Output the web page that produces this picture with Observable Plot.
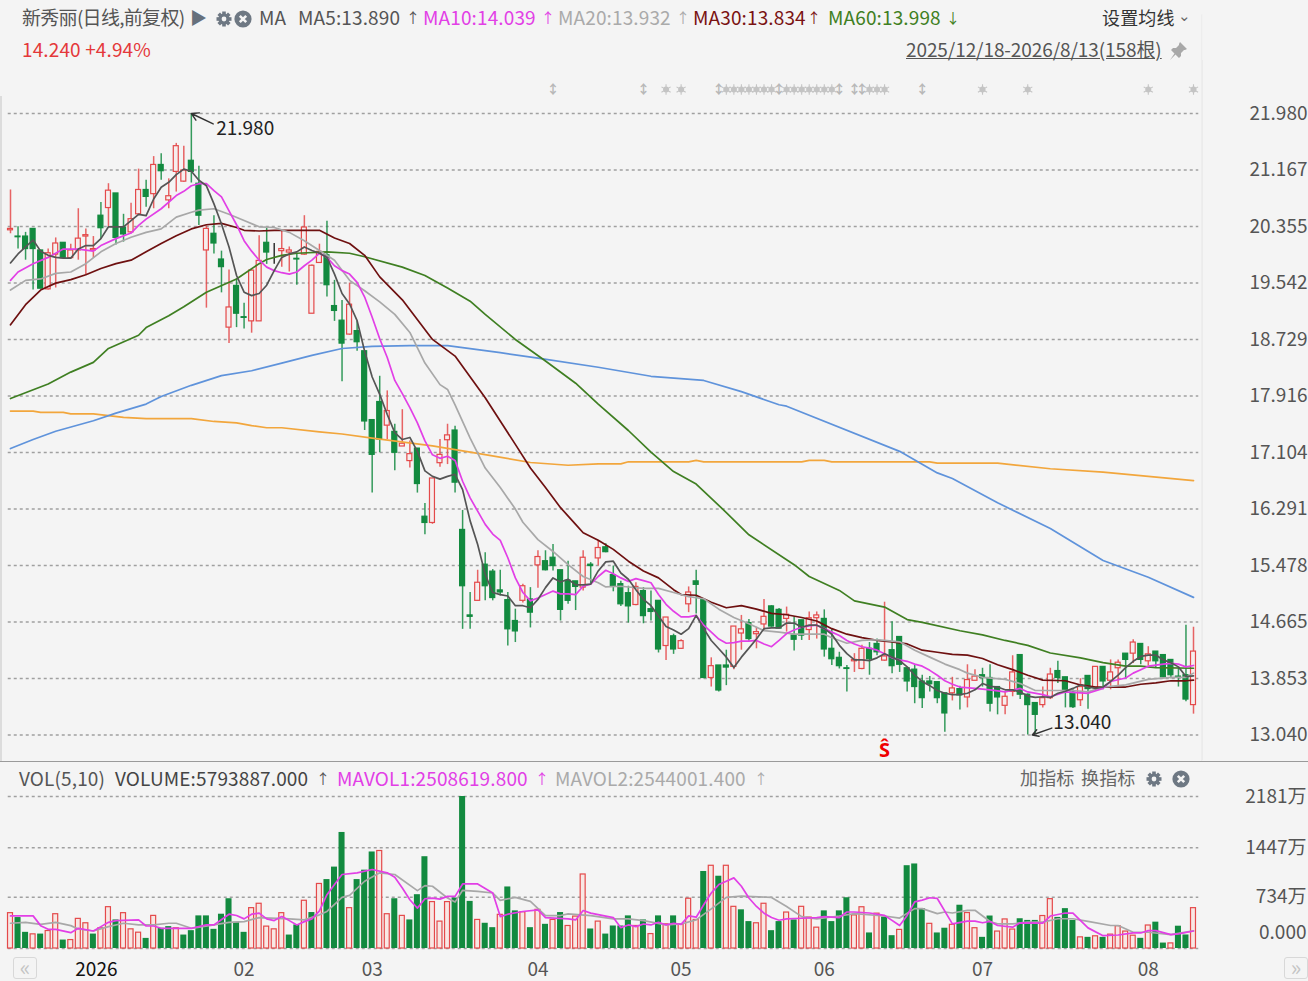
<!DOCTYPE html>
<html><head><meta charset="utf-8">
<script src="https://cdn.jsdelivr.net/npm/d3@7"></script>
<script src="https://cdn.jsdelivr.net/npm/@observablehq/plot@0.6"></script>
<style>
html,body{margin:0;padding:0;background:#f4f4f4;width:1308px;height:981px;overflow:hidden;font-family:"Noto Sans CJK SC","Noto Sans",sans-serif}
#stage{position:relative;width:1308px;height:981px;background:#f4f4f4}
#main,#vol{position:absolute;left:0}
#main{top:0}#vol{top:762px}
.t{position:absolute;white-space:nowrap;font-size:19px;line-height:24px;letter-spacing:.13px}
.ic{position:absolute}
.btn{position:absolute;width:22px;height:20px;border:1px solid #d8d8d8;border-radius:3px;color:#c4c4c4;font-size:22px;line-height:17px;text-align:center}
</style></head><body><div id="stage">
<div id="main"></div><div id="vol"></div>
</div>
<script>
const RED="#e4494a",GREEN="#128a3f";
// candles: i = 0..157
const opens=[20.30,20.21,20.21,20.32,20.01,19.45,19.95,20.12,19.90,20.01,20.21,20.01,20.51,20.62,20.83,20.34,20.27,20.53,20.88,20.82,21.24,20.73,21.14,21.00,21.30,20.97,20.01,20.25,19.88,18.90,19.50,19.05,18.99,18.99,20.12,19.98,20.00,19.98,19.89,19.95,19.10,19.83,19.94,19.21,19.00,18.80,18.85,18.56,
17.57,17.83,17.49,17.40,17.19,16.98,17.16,16.18,16.09,16.95,17.28,17.42,15.99,14.76,14.97,15.49,15.39,15.12,14.98,14.68,14.97,14.99,15.48,15.54,15.59,15.41,15.26,15.25,15.16,15.49,15.58,15.74,15.34,15.21,15.08,14.91,15.11,14.85,14.97,14.32,14.46,14.28,14.92,15.25,
14.98,13.86,14.04,14.04,14.02,14.50,14.65,14.49,14.63,14.89,14.84,14.71,14.47,14.69,14.55,14.72,14.71,14.28,14.15,14.00,14.10,13.99,14.28,14.35,14.11,14.26,14.45,14.00,13.98,13.81,13.81,13.80,13.64,13.64,13.70,
13.58,13.82,13.90,13.86,13.73,13.46,13.66,14.19,13.62,13.50,13.47,13.57,13.96,13.87,13.65,13.54,13.89,13.72,14.02,13.82,14.00,14.21,14.21,14.35,14.10,14.24,14.19,14.12,13.88,13.90,13.47];
const closes=[20.32,20.20,20.03,20.03,19.46,19.97,20.11,19.90,20.01,20.18,20.23,20.03,20.33,20.87,20.19,20.24,20.46,20.88,20.78,21.24,21.15,20.79,21.51,21.16,21.14,20.51,20.32,20.11,19.77,19.19,19.10,19.04,19.72,19.86,19.98,19.98,20.03,20.01,19.88,20.34,19.79,19.99,19.51,19.14,18.67,19.23,18.69,17.55,
17.07,17.29,17.70,17.10,17.23,17.08,16.65,16.09,16.73,17.07,17.35,16.67,15.18,14.74,15.23,15.18,15.01,15.09,14.56,14.53,15.18,14.80,15.60,15.41,15.47,14.84,14.97,15.17,15.59,15.47,15.73,15.67,15.18,14.92,14.89,15.17,14.75,14.81,14.27,14.73,14.27,14.39,15.09,15.20,
13.86,14.03,13.68,14.01,14.60,14.56,14.42,14.52,14.74,14.60,14.57,14.77,14.41,14.47,14.72,14.76,14.27,14.13,14.03,13.99,14.12,14.28,14.13,14.23,14.17,14.03,14.05,13.81,13.73,13.57,13.77,13.57,13.35,13.71,13.61,
13.83,13.88,13.86,13.49,13.58,13.59,13.94,13.62,13.47,13.33,13.57,13.91,13.86,13.69,13.44,13.73,13.70,14.02,13.81,13.94,14.08,14.12,14.37,14.12,14.20,14.10,13.87,13.90,13.87,13.55,14.24];
const highs=[20.88,20.35,20.27,20.32,20.01,20.03,20.19,20.12,20.10,20.61,20.32,20.21,20.70,20.97,20.83,20.53,20.69,21.18,21.02,21.36,21.40,21.04,21.55,21.51,21.98,21.22,20.36,20.51,20.00,19.73,19.60,19.25,19.73,20.22,20.34,20.11,20.30,20.06,19.96,20.51,19.80,20.10,20.43,19.58,19.29,19.54,18.99,18.56,
17.57,18.20,17.99,17.51,17.72,17.27,17.16,16.37,16.73,17.29,17.51,17.48,16.27,15.09,15.41,15.66,15.42,15.41,15.09,14.85,15.21,15.16,15.69,15.69,15.78,15.41,15.54,15.25,15.69,15.52,15.83,15.79,15.47,15.25,15.18,15.23,15.16,15.11,14.97,14.73,14.49,14.41,15.17,15.41,
14.98,14.15,14.04,14.26,14.60,14.76,14.70,14.59,14.99,14.90,14.86,14.88,14.74,14.69,14.81,14.81,14.84,14.57,14.23,14.04,14.21,14.33,14.37,14.42,14.95,14.67,14.45,14.00,14.04,13.90,13.88,13.80,13.64,13.87,13.74,
14.05,13.98,14.00,14.05,13.73,13.65,14.18,14.19,13.63,13.50,13.73,14.00,14.10,13.87,13.69,13.85,13.89,14.02,14.02,14.12,14.12,14.21,14.41,14.35,14.31,14.24,14.19,14.12,14.00,14.62,14.59];
const lows=[20.25,20.03,19.87,19.44,19.46,19.44,19.47,19.90,19.90,19.87,19.65,19.90,20.18,20.35,20.09,20.13,20.25,20.51,20.63,20.61,21.02,20.61,20.85,20.99,20.98,20.37,19.18,19.96,19.40,18.67,18.90,18.88,18.82,18.99,19.81,19.81,19.77,19.70,19.51,19.94,19.10,19.83,19.34,18.99,18.12,18.79,18.56,17.42,
16.52,17.10,17.29,16.84,17.19,16.88,16.52,15.92,16.07,16.89,16.93,16.52,14.56,14.56,14.97,14.97,14.97,15.04,14.32,14.37,14.94,14.58,15.15,15.40,15.40,14.68,14.92,14.83,15.11,15.20,15.47,15.66,15.10,14.89,14.65,14.90,14.64,14.68,14.22,14.11,14.20,14.27,14.80,14.78,
13.85,13.73,13.66,13.75,13.98,14.26,14.39,14.28,14.53,14.59,14.57,14.52,14.25,14.40,14.40,14.42,14.16,14.04,13.99,13.66,13.94,13.98,13.90,14.18,14.10,13.92,13.94,13.66,13.49,13.42,13.66,13.49,13.08,13.53,13.40,
13.43,13.82,13.73,13.37,13.33,13.33,13.59,13.55,13.04,13.06,13.43,13.55,13.78,13.43,13.42,13.45,13.41,13.72,13.69,13.69,13.73,13.85,14.07,14.05,14.03,14.00,13.86,13.85,13.73,13.52,13.34];
// volume in units of 万
const volumes=[507,444,232,203,207,251,492,121,121,425,362,207,290,593,410,507,275,227,145,468,290,314,290,193,256,468,468,275,492,714,376,232,579,642,314,275,507,193,338,685,516,926,989,1168,1665,579,989,1124,1385,1399,492,714,468,410,772,
1317,666,386,666,724,2181,676,410,362,299,483,883,540,521,299,555,347,410,516,323,458,1062,280,386,207,323,323,468,323,410,207,468,347,468,347,714,410,1105,1187,1037,1187,598,555,386,362,642,256,386,516,410,598,444,299,540,386,540,
728,475,592,223,500,451,184,267,1188,1213,572,354,223,291,340,621,509,291,160,466,243,417,272,427,403,403,466,708,446,572,403,160,160,175,160,199,320,243,184,146,330,378,78,73,320,194,579];
const volDir=["rggrgrrgrr","rgrrgrrrgr","ggrggggggg","ggrrrrrggr","grgggrgggr","rgrgggrrrg","ggrggrggrg","rgrgrrrgrg","gggrgrgrgr","rrgrgrrggr","rggrgrrrgg","ggrrgrggrg","ggrggrgrrg","grrrgggrrg","ggrgrgrrrr","grggrggr"].join("");
// moving averages: [candle index, value]
const ma5Values=[19.83,19.96,20.06,20.16,20.00,19.94,19.91,19.90,19.90,20.03,20.08,20.08,20.18,20.35,20.35,20.35,20.44,20.53,20.51,20.75,20.92,20.99,21.10,21.18,21.15,21.02,20.94,20.68,20.39,20.06,19.65,19.41,19.36,19.39,19.51,19.72,19.91,19.96,19.99,20.06,20.01,19.97,19.91,19.67,19.39,19.24,19.00,18.56,18.19,17.94,17.65,17.39,17.29,17.32,17.12,16.84,16.76,16.72,16.76,16.79,16.57,16.12,15.78,15.35,15.09,15.06,15.04,14.90,14.90,14.87,14.99,15.16,15.30,15.24,15.28,15.20,15.20,15.21,15.40,15.53,15.54,15.37,15.28,15.13,14.99,14.90,14.75,14.60,14.55,14.49,14.57,14.76,14.57,14.40,14.28,14.16,14.01,14.16,14.29,14.42,14.57,14.58,14.58,14.65,14.65,14.59,14.62,14.62,14.57,14.49,14.33,14.21,14.12,14.12,14.11,14.15,14.21,14.16,14.11,14.02,13.90,13.81,13.75,13.68,13.64,13.62,13.62,13.64,13.69,13.78,13.74,13.73,13.69,13.69,13.66,13.60,13.58,13.59,13.58,13.64,13.67,13.71,13.76,13.73,13.71,13.73,13.81,13.90,14.01,14.10,14.17,14.19,14.19,14.12,14.08,14.02,13.88,13.89];
const ma10=[[0,19.58],[1,19.70],[3,19.82],[5,19.91],[7,20.03],[9,20.03],[11,20.00],[12,20.08],[14,20.18],[16,20.26],[17,20.37],[18,20.46],[20,20.61],[22,20.80],[23,20.86],[24,20.94],[25,20.97],[26,20.97],[27,20.87],[28,20.78],[29,20.58],[30,20.38],[31,20.15],[32,20.00],[33,19.87],[34,19.77],[35,19.72],[36,19.69],[37,19.67],[38,19.70],[39,19.79],[40,19.87],[41,19.97],[42,19.91],[43,19.79],[44,19.72],[45,19.67],[46,19.55],[47,19.34],[48,19.05],[49,18.74],[50,18.47],[51,18.14],[52,17.95],[53,17.75],[54,17.53],[55,17.27],[56,17.07],[57,17.02],[58,17.05],[59,16.99],[60,16.69],[61,16.45],[62,16.26],[63,16.07],[64,15.93],[65,15.84],[66,15.59],[67,15.30],[68,15.09],[69,14.97],[70,15.01],[71,15.06],[72,15.11],[73,15.07],[74,15.07],[75,15.06],[76,15.18],[77,15.21],[78,15.32],[79,15.41],[80,15.36],[81,15.30],[82,15.25],[83,15.29],[84,15.26],[85,15.23],[86,15.06],[87,14.92],[88,14.82],[89,14.74],[90,14.74],[91,14.76],[92,14.62],[93,14.52],[94,14.42],[95,14.36],[96,14.37],[97,14.39],[98,14.39],[99,14.40],[100,14.35],[101,14.31],[102,14.40],[103,14.50],[104,14.55],[105,14.59],[106,14.61],[107,14.62],[108,14.57],[109,14.52],[110,14.47],[111,14.40],[112,14.35],[113,14.31],[114,14.29],[115,14.26],[116,14.21],[117,14.15],[118,14.12],[119,14.10],[120,14.06],[121,14.03],[122,13.97],[123,13.90],[124,13.82],[125,13.77],[126,13.73],[128,13.71],[130,13.69],[132,13.66],[134,13.71],[135,13.66],[137,13.62],[138,13.59],[140,13.66],[143,13.64],[145,13.71],[146,13.81],[148,13.86],[149,13.93],[150,13.98],[151,14.03],[153,14.06],[154,14.07],[155,14.06],[156,14.02],[157,14.04]];
const ma20=[[0,19.44],[2,19.58],[4,19.60],[6,19.68],[8,19.70],[10,19.82],[12,19.99],[14,20.11],[16,20.20],[18,20.27],[20,20.32],[22,20.49],[24,20.56],[25,20.59],[27,20.61],[29,20.53],[31,20.44],[33,20.35],[35,20.34],[37,20.27],[39,20.15],[41,20.01],[43,19.87],[45,19.58],[47,19.43],[49,19.27],[51,19.09],[53,18.83],[55,18.39],[57,18.08],[58,18.01],[59,17.79],[61,17.31],[63,16.88],[65,16.60],[67,16.29],[68,16.10],[70,15.85],[72,15.68],[74,15.49],[76,15.32],[78,15.23],[79,15.17],[81,15.18],[84,15.15],[86,15.15],[88,15.09],[90,15.03],[92,15.00],[94,14.85],[96,14.73],[98,14.64],[100,14.54],[102,14.52],[104,14.49],[106,14.49],[108,14.49],[109,14.44],[111,14.36],[113,14.40],[115,14.41],[116,14.40],[118,14.38],[120,14.26],[122,14.16],[124,14.06],[126,13.98],[127,13.93],[129,13.87],[132,13.84],[134,13.78],[136,13.68],[138,13.68],[141,13.68],[143,13.66],[145,13.73],[148,13.76],[151,13.84],[154,13.87],[156,13.87],[157,13.93]];
const ma30=[[0,18.94],[2,19.23],[4,19.44],[6,19.54],[8,19.59],[10,19.66],[12,19.75],[14,19.82],[16,19.87],[18,19.99],[20,20.11],[22,20.22],[24,20.32],[26,20.38],[28,20.40],[30,20.34],[31,20.30],[33,20.29],[35,20.30],[37,20.30],[39,20.30],[41,20.30],[43,20.19],[45,20.11],[47,19.94],[49,19.63],[52,19.30],[56,18.73],[59,18.49],[63,17.89],[67,17.22],[69,16.88],[71,16.60],[73,16.31],[75,16.07],[76,15.95],[78,15.84],[80,15.71],[82,15.54],[84,15.40],[86,15.30],[88,15.13],[89,15.06],[91,15.05],[93,14.95],[95,14.87],[97,14.90],[99,14.85],[101,14.79],[103,14.77],[105,14.73],[107,14.68],[109,14.57],[111,14.49],[113,14.44],[115,14.40],[117,14.38],[119,14.35],[121,14.26],[123,14.23],[125,14.20],[127,14.19],[129,14.14],[131,14.05],[133,13.98],[135,13.90],[137,13.83],[140,13.82],[142,13.76],[144,13.73],[146,13.73],[148,13.73],[150,13.77],[152,13.79],[154,13.82],[156,13.82],[157,13.83]];
const ma60=[[0,17.88],[5,18.09],[8,18.26],[11,18.40],[13,18.60],[17,18.79],[18,18.90],[21,19.07],[23,19.20],[26,19.41],[30,19.60],[33,19.82],[34,19.88],[36,19.94],[38,19.97],[42,19.99],[45,19.97],[47,19.92],[52,19.77],[55,19.65],[58,19.47],[61,19.28],[63,19.09],[67,18.73],[71,18.42],[75,18.10],[78,17.80],[82,17.42],[85,17.11],[88,16.83],[91,16.65],[95,16.24],[98,15.92],[104,15.49],[106,15.32],[110,15.12],[112,14.97],[116,14.88],[119,14.70],[121,14.66],[126,14.54],[129,14.48],[132,14.40],[135,14.33],[138,14.22],[142,14.15],[145,14.08],[148,14.03],[150,14.03],[152,14.01],[157,14.00]];
const ma120=[[0,17.16],[3,17.29],[6,17.41],[11,17.56],[14,17.67],[18,17.80],[20,17.91],[24,18.07],[28,18.21],[32,18.28],[36,18.39],[40,18.50],[44,18.60],[48,18.63],[53,18.64],[58,18.64],[65,18.54],[70,18.46],[78,18.33],[85,18.20],[92,18.14],[97,17.98],[102,17.79],[103,17.77],[118,17.12],[123,16.81],[125,16.73],[131,16.38],[138,16.01],[145,15.55],[151,15.31],[157,15.02]];
const ma250=[[0,17.70],[3,17.70],[4,17.68],[7,17.68],[8,17.66],[11,17.66],[15,17.61],[18,17.59],[24,17.59],[27,17.55],[30,17.53],[32,17.49],[34,17.46],[36,17.46],[41,17.40],[44,17.37],[48,17.31],[56,17.20],[62,17.09],[69,16.96],[74,16.92],[78,16.94],[81,16.94],[82,16.97],[90,16.97],[91,16.99],[92,16.97],[105,16.97],[106,16.99],[108,16.99],[109,16.97],[122,16.97],[123,16.95],[131,16.95],[138,16.87],[145,16.82],[157,16.70]];
const mavol1=[[0,468],[3,468],[4,328],[5,275],[6,275],[8,227],[9,290],[11,251],[12,314],[13,376],[14,400],[17,410],[18,323],[19,323],[20,290],[22,290],[24,290],[26,338],[27,338],[29,492],[30,473],[31,425],[32,492],[33,507],[34,425],[35,400],[36,458],[37,400],[38,338],[39,386],[40,425],[41,540],[42,772],[43,917],[44,1062],[46,1086],[48,1134],[50,1086],[51,1023],[52,869],[53,700],[54,579],[55,714],[56,724],[57,709],[58,748],[59,748],[60,926],[62,926],[64,796],[65,458],[66,492],[68,531],[70,555],[71,444],[74,425],[75,410],[76,545],[77,507],[80,444],[81,299],[82,338],[83,314],[84,352],[85,338],[86,376],[87,338],[88,362],[89,347],[90,468],[91,449],[92,627],[93,796],[94,917],[95,965],[96,1013],[97,893],[98,724],[99,603],[100,507],[101,444],[102,405],[103,425],[105,434],[107,444],[108,458],[110,444],[111,524],[112,524],[114,509],[116,475],[118,330],[119,475],[120,669],[121,694],[122,728],[123,718],[125,354],[127,393],[128,393],[129,369],[130,388],[131,330],[133,306],[134,369],[137,364],[138,466],[140,509],[141,509],[143,296],[145,184],[147,194],[149,223],[150,223],[151,257],[152,257],[154,199],[155,209],[157,251]];
const mavol2=[[0,362],[2,376],[4,347],[6,376],[8,328],[9,280],[11,251],[13,314],[15,362],[17,338],[19,338],[21,362],[22,362],[24,290],[27,338],[29,376],[31,386],[33,444],[37,425],[39,410],[41,483],[42,531],[44,733],[45,762],[47,965],[49,1086],[51,1062],[54,830],[55,902],[56,893],[58,724],[59,666],[60,835],[62,820],[64,796],[65,690],[67,733],[69,676],[71,473],[73,473],[74,497],[77,473],[80,425],[82,425],[84,400],[87,338],[89,352],[91,410],[93,569],[95,733],[97,752],[101,733],[103,603],[105,458],[107,425],[110,466],[112,500],[116,466],[118,437],[120,572],[121,572],[123,500],[124,524],[125,509],[127,548],[128,548],[130,388],[131,354],[133,354],[135,378],[137,378],[139,427],[141,427],[143,388],[146,330],[147,330],[149,233],[151,233],[154,199],[157,254]];
const priceTicks=[21.98,21.167,20.355,19.542,18.729,17.916,17.104,16.291,15.478,14.665,13.853,13.04];
const volTicks=[2181,1447,734];
const monthIdx=[31,48,70,89,108,129,151];
const monthLabels=["02","03","04","05","06","07","08"];
const yearIdx=[11.4];
const eventUpDown=[72,84,94,102,110,112,113,121];
const eventStar=[87,89,95,96,97,98,99,100,101,103,104,105,106,107,108,109,114,115,116,129,135,151,157];
const eventY=22.325;
const sellSignal=[{i:116,y:12.82}];
const extremes=[{i:24,y:21.98,tx:27.3,ty:21.76,ax:26.9,ay:21.83,label:"21.980"},{i:135.6,y:13.04,tx:138.4,ty:13.22,ax:138.2,ay:13.14,label:"13.040"}];

const candles=opens.map((o,i)=>({i,o,c:closes[i],h:highs[i],l:lows[i]}));
const col=d=>d.c>d.o?RED:d.c<d.o?GREEN:"#111";
const pairs=a=>a.map(([i,v])=>({i,v}));
const line=(a,stroke,w=1.7)=>Plot.line(pairs(a),{x:"i",y:"v",stroke,strokeWidth:w,curve:"linear"});
const FONT='"Noto Sans CJK SC","Noto Sans",sans-serif';
const xScale={domain:[0,157],range:[10,1193],axis:null};
const grid=(vals)=>Plot.ruleY(vals,{x1:-0.3,x2:157.7,stroke:"#a0a0a0",strokeWidth:1.5,strokeDasharray:"3 3"});

const main=Plot.plot({width:1308,height:762,marginLeft:0,marginRight:59,marginTop:0,marginBottom:0,
 style:{background:"transparent",fontFamily:FONT},
 x:xScale,y:{domain:[13.04,21.98],range:[734.5,113],axis:null},
 marks:[
  grid(priceTicks),
  Plot.ruleX([158.1],{y1:12.2,y2:23.4,stroke:"#ebebeb",strokeWidth:1}),
  Plot.axisY(priceTicks,{anchor:"right",tickSize:0,tickPadding:0,tickFormat:d=>d.toFixed(3),fontSize:19,label:null,fill:"#555"}),
  Plot.ruleX(candles,{x:"i",y1:"l",y2:"h",stroke:col,strokeWidth:1.5,strokeOpacity:.85}),
  Plot.rect(candles,{x1:d=>d.i-.33,x2:d=>d.i+.33,y1:"o",y2:"c",fill:d=>d.c>d.o?"#f6eeee":col(d),stroke:col,strokeWidth:1.2}),
  line(ma250,"#f2a63c"),line(ma120,"#5f93db"),line(ma60,"#3f7f22"),line(ma30,"#6e1010"),line(ma20,"#a8a8a8"),line(ma10,"#e23fe6"),
  line(ma5Values.map((v,i)=>[i,v]),"#555555"),
  Plot.dot(eventStar,{x:d=>d,y:()=>eventY,r:3,fill:"#c4c4c4"}),
  Plot.dot(eventStar,{x:d=>d,y:()=>eventY,symbol:"asterisk",r:5,stroke:"#c4c4c4",strokeWidth:1.1}),
  Plot.text(eventUpDown,{x:d=>d,y:()=>eventY,text:()=>"↕",fontSize:13,fontWeight:"bold",fill:"#b8b8b8"}),
  Plot.text(sellSignal,{x:"i",y:"y",text:()=>"Ŝ",fontSize:20,fontWeight:"bold",fill:"#f00000"}),
  Plot.arrow(extremes,{x1:"ax",y1:"ay",x2:"i",y2:"y",stroke:"#333",strokeWidth:1.4,headLength:10,bend:0}),
  Plot.text(extremes,{x:"tx",y:"ty",text:"label",fontSize:19,fill:"#222",textAnchor:"start"})
 ]});
document.getElementById("main").append(main);

const bars=volumes.map((v,i)=>({i,v,d:volDir[i]}));
const vol=Plot.plot({width:1308,height:219,marginLeft:0,marginRight:2,marginTop:0,marginBottom:19,
 style:{background:"transparent",fontFamily:FONT},
 x:xScale,y:{domain:[0,2181],range:[186,34],axis:null},
 marks:[
  grid(volTicks.concat([0])),
  Plot.rect(bars.filter(d=>d.d==="r"),{x1:d=>d.i-.33,x2:d=>d.i+.33,y1:()=>0,y2:"v",fill:"#f8e7e4",stroke:RED,strokeWidth:1.2}),
  Plot.rect(bars.filter(d=>d.d==="g"),{x1:d=>d.i-.4,x2:d=>d.i+.4,y1:()=>0,y2:"v",fill:GREEN}),
  line(mavol2,"#a8a8a8"),line(mavol1,"#e23fe6"),
  Plot.axisY(volTicks,{anchor:"right",tickSize:0,tickPadding:0,textAnchor:"end",tickFormat:d=>d+"万",fontSize:19,fill:"#555",label:null}),
  Plot.axisY([0],{anchor:"right",tickSize:0,tickPadding:0,textAnchor:"end",tickFormat:()=>"0.000",fontSize:19,fill:"#555",label:null,dy:-16}),
  Plot.axisX(monthIdx,{anchor:"bottom",tickSize:0,tickPadding:0,tickFormat:d=>monthLabels[monthIdx.indexOf(d)],fontSize:19,fill:"#555",label:null}),
  Plot.axisX(yearIdx,{anchor:"bottom",tickSize:0,tickPadding:0,tickFormat:()=>"2026",fontSize:19,fill:"#111",label:null})
 ]});
document.getElementById("vol").append(vol);

// header texts
const stage=document.getElementById("stage");
const T=(x,y,s,c,extra="")=>{const e=document.createElement("div");e.className="t";e.style.cssText=`left:${x}px;top:${y-13}px;color:${c};${extra}`;e.textContent=s;stage.append(e)};
const A=(cx,y,s,c)=>T(cx-7,y,s,c,"font-size:14px;letter-spacing:0");
const gear=(x,y,c="#6e7883")=>{const e=document.createElement("div");e.className="ic";e.style.cssText=`left:${x}px;top:${y}px`;
 e.innerHTML=`<svg width="18" height="18" viewBox="0 0 18 18"><g fill="${c}"><circle cx="9" cy="9" r="5.6"/>${[0,45,90,135].map(a=>`<rect x="7.2" y="1.5" width="3.6" height="15" transform="rotate(${a} 9 9)"/>`).join("")}</g><circle cx="9" cy="9" r="2.4" fill="#f4f4f4"/></svg>`;stage.append(e)};
const closeI=(x,y,c="#6e7883")=>{const e=document.createElement("div");e.className="ic";e.style.cssText=`left:${x}px;top:${y}px`;
 e.innerHTML=`<svg width="18" height="18" viewBox="0 0 18 18"><circle cx="9" cy="9" r="8.6" fill="${c}"/><path d="M5.8 5.8L12.2 12.2M12.2 5.8L5.8 12.2" stroke="#f4f4f4" stroke-width="2.6"/></svg>`;stage.append(e)};
T(22,18,"新秀丽(日线,前复权)","#555","letter-spacing:-.7px");
T(190,18,"▶","#66707c","font-size:17px");
gear(215,9);closeI(234,9);
T(259,18,"MA","#555");
T(298,18,"MA5:13.890","#555");A(413,18,"↑","#555");
T(423,18,"MA10:14.039","#e23fe6");A(548,18,"↑","#e23fe6");
T(558,18,"MA20:13.932","#aaa");A(683,18,"↑","#aaa");
T(693,18,"MA30:13.834","#7a1212");A(814,18,"↑","#7a1212");
T(828,18,"MA60:13.998","#3f7f22");A(953,18,"↓","#3f7f22");
T(1102,18,"设置均线","#333","font-size:18px");T(1178,18,"⌄","#666","font-size:15px;top:3px");
T(22,50,"14.240 +4.94%","#e4383a");
T(906,50,"2025/12/18-2026/8/13(158根)","#555","text-decoration:underline;letter-spacing:-.09px");
const pin=document.createElement("div");pin.className="ic";pin.style.cssText="left:1168px;top:41px";
pin.innerHTML='<svg width="20" height="20" viewBox="0 0 20 20"><path d="M12 1l7 7-2 1-1 0-3 3 0 3-2 2-3.5-3.5L2 19l4.5-6.5L3 9l2-2 3 0 3-3 0-1z" fill="#a8a8a8"/></svg>';stage.append(pin);
T(19,779,"VOL(5,10)","#555");
T(115,779,"VOLUME:5793887.000","#444");A(323,779,"↑","#555");
T(337,779,"MAVOL1:2508619.800","#e23fe6");A(542,779,"↑","#e23fe6");
T(555,779,"MAVOL2:2544001.400","#aaa");A(761,779,"↑","#aaa");
T(1020,778,"加指标","#666","font-size:18px");T(1081,778,"换指标","#666","font-size:18px");
gear(1145,769);closeI(1172,769);
const b1=document.createElement("div");b1.className="btn";b1.style.cssText="left:13px;top:957px";b1.textContent="«";stage.append(b1);
const b2=document.createElement("div");b2.className="btn";b2.style.cssText="left:1284px;top:957px";b2.textContent="»";stage.append(b2);
const sep=document.createElement("div");sep.style.cssText="position:absolute;left:0;top:761px;width:1308px;height:1px;background:#9a9a9a";stage.append(sep);
const strip=document.createElement("div");strip.style.cssText="position:absolute;left:0;top:96px;width:2px;height:665px;background:#dcdcdc";stage.append(strip);
const vline=document.createElement("div");vline.style.cssText="position:absolute;left:1202px;top:60px;width:1px;height:700px;background:#ebebeb";stage.append(vline);
</script></body></html>
